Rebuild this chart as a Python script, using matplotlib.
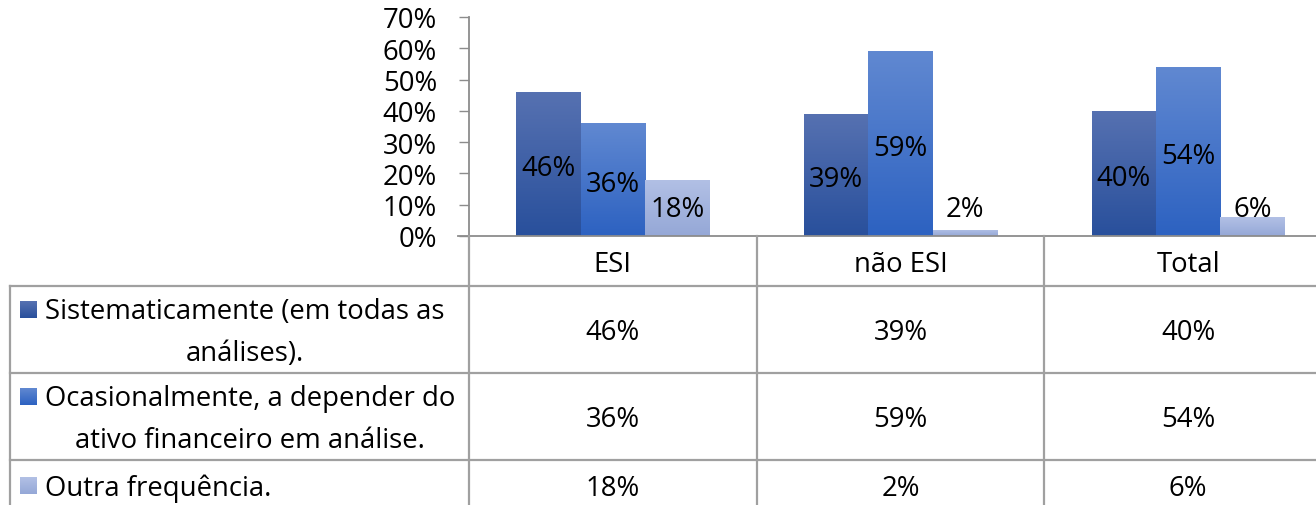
import matplotlib
matplotlib.use("Agg")
import matplotlib.pyplot as plt
import numpy as np
from matplotlib.colors import LinearSegmentedColormap
from matplotlib.lines import Line2D

# ---------------- data ----------------
categories = ["ESI", "não ESI", "Total"]
series_names = [
    "Sistematicamente (em todas as\nanálises).",
    "Ocasionalmente, a depender do\nativo financeiro em análise.",
    "Outra frequência.",
]
sistematicamente = [0.46, 0.39, 0.40]
ocasionalmente = [0.36, 0.59, 0.54]
outra = [0.18, 0.02, 0.06]
values = [sistematicamente, ocasionalmente, outra]
yticks = [0.0, 0.1, 0.2, 0.3, 0.4, 0.5, 0.6, 0.7]

# ---------------- style ----------------
W, H = 1316, 506
FONT = "Open Sans"
FS = 19.8
grad = [("#5671B1", "#29509C"), ("#6088D1", "#2D62C1"), ("#B2C0E5", "#95A8D7")]
line_c = "#8c8c8c"
tab_c = "#a0a0a0"
TDY = 3  # vertical text nudge (px) for table texts

plt.rcParams["font.family"] = [FONT, "DejaVu Sans"]

fig = plt.figure(figsize=(W / 100, H / 100), dpi=100)
fig.patch.set_facecolor("white")

def fx(x):
    return x / W

def fy(y):
    return 1 - y / H

ax_left, ax_right, ax_top, ax_bot = 469, 1332, 18, 237
ax = fig.add_axes([fx(ax_left), fy(ax_bot), (ax_right - ax_left) / W, (ax_bot - ax_top) / H])
ax.set_facecolor("none")
ax.set_xlim(-0.5, len(categories) - 0.5)
ax.set_ylim(0, 0.7)

bw = 0.224
x = np.arange(len(categories))
for j, vals in enumerate(values):
    bars = ax.bar(x + (j - 1) * bw, vals, width=bw, color="none", edgecolor="none", zorder=2)
    cmap = LinearSegmentedColormap.from_list(f"g{j}", [grad[j][1], grad[j][0]])
    for b, v in zip(bars, vals):
        x0 = b.get_x()
        im = ax.imshow(np.linspace(0, 1, 64).reshape(-1, 1), cmap=cmap, origin="lower",
                       extent=(x0, x0 + b.get_width(), 0, v), aspect="auto", zorder=2,
                       interpolation="bilinear")
        im.set_clip_path(b)
        # data labels
        ly = v / 2 if j < 2 else max(v / 2, 0.093)
        dy = -3.2 if j < 2 else -1.2
        ax.annotate(f"{round(v * 100):.0f}%", (x0 + b.get_width() / 2, ly),
                    xytext=(0, dy), textcoords="offset points", ha="center",
                    va="center", fontsize=FS, color="black", zorder=4)

ax.set_xlim(-0.5, len(categories) - 0.5)
ax.set_ylim(0, 0.7)
ax.set_yticks(yticks)
ax.set_yticklabels([f"{round(t * 100):.0f}%" for t in yticks], fontsize=FS)
ax.tick_params(axis="y", direction="out", length=7.5, width=1.0, color=line_c, pad=15.5)
ax.set_xticks([])
for s in ["top", "right", "bottom"]:
    ax.spines[s].set_visible(False)
ax.spines["left"].set_color(line_c)
ax.spines["left"].set_linewidth(1.3)

# ---------------- data table ----------------
tab = fig.add_axes([0, 0, 1, 1])
tab.set_xlim(0, W)
tab.set_ylim(H, 0)
tab.axis("off")
tab.set_zorder(3)

def to_px(xd):
    disp = ax.transData.transform((xd, 0))
    return disp[0] * W / fig.bbox.width

bounds = [to_px(i - 0.5) for i in range(len(categories) + 1)]
row_y = [237, 286.5, 373.5, 461, 520]
left_x = 10

# horizontal lines
tab.add_line(Line2D([ax_left - 11, W], [row_y[0], row_y[0]], color=line_c, lw=1.3))
for y in row_y[1:4]:
    tab.add_line(Line2D([left_x, W], [y, y], color=tab_c, lw=1.6))
# vertical lines
for bx in bounds[:-1]:
    tab.add_line(Line2D([bx, bx], [row_y[0], H], color=tab_c, lw=1.6))
tab.add_line(Line2D([left_x, left_x], [row_y[1], H], color=tab_c, lw=1.6))

# header
for i, c in enumerate(categories):
    tab.text((bounds[i] + bounds[i + 1]) / 2, (row_y[0] + row_y[1]) / 2 + TDY, c,
             ha="center", va="center", fontsize=FS)

# rows
fig.canvas.draw()
renderer = fig.canvas.get_renderer()
text_x0 = 45
line_gap = 41.5
for j, name in enumerate(series_names):
    lines = name.split("\n")
    top, bot = row_y[j + 1], row_y[j + 2]
    if j == 2:
        bot = top + 50
    cy = (top + bot) / 2
    n = len(lines)
    ys = [cy + (k - (n - 1) / 2) * line_gap for k in range(n)]
    widths = []
    for ln in lines:
        t = tab.text(0, 0, ln, fontsize=FS)
        widths.append(t.get_window_extent(renderer).width * W / fig.bbox.width)
        t.remove()
    wmax = max(widths)
    for k, ln in enumerate(lines):
        if n > 1:
            tab.text(text_x0 + wmax / 2, ys[k] + TDY, ln, ha="center", va="center", fontsize=FS)
        else:
            tab.text(text_x0, ys[k] + TDY, ln, ha="left", va="center", fontsize=FS)
    # legend key with gradient
    ky = ys[0] + 1
    ks = 17
    cmap = LinearSegmentedColormap.from_list(f"k{j}", [grad[j][0], grad[j][1]])
    tab.imshow(np.linspace(0, 1, 32).reshape(-1, 1), cmap=cmap, origin="upper",
               extent=(20, 20 + ks, ky + ks / 2, ky - ks / 2), aspect="auto", zorder=2)
    for i in range(len(categories)):
        tab.text((bounds[i] + bounds[i + 1]) / 2, cy + TDY, f"{round(values[j][i] * 100):.0f}%",
                 ha="center", va="center", fontsize=FS)

tab.set_xlim(0, W)
tab.set_ylim(H, 0)
fig.savefig("out.png", dpi=100)
